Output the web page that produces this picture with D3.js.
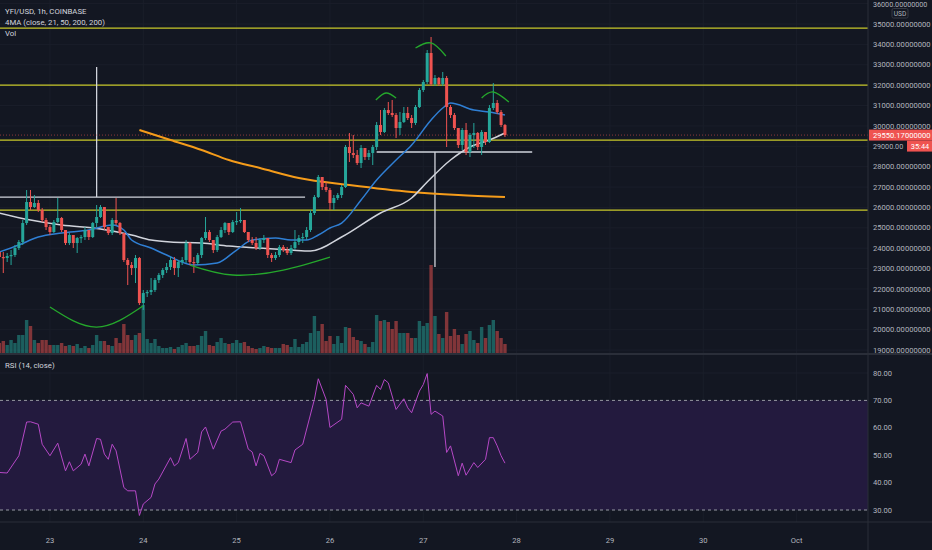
<!DOCTYPE html>
<html>
<head>
<meta charset="utf-8">
<script src="https://cdn.jsdelivr.net/npm/d3@7"></script>
<style>
  html, body { margin: 0; padding: 0; background: #131722; overflow: hidden; }
  text { font-family: Roboto, "Noto Sans", sans-serif; }
</style>
</head>
<body>
<div id="chart"></div>
<script>
// YFI/USD 1h candles, 22 Sep 2020 11:00 UTC onwards (open = previous close)
const firstOpen = 23812;
const closes = [23567, 23518, 23616, 23665, 24009, 24303, 25235, 26266, 26021, 26217,
  25873, 25383, 25039, 24794, 25284, 25481, 24892, 24254, 24647, 24254,
  24499, 24548, 24892, 24548, 25235, 25530, 26021, 25039, 24745, 25383,
  25235, 24745, 23420, 23174, 23027, 23518, 21310, 21800, 21850, 21948,
  22438, 22684, 22929, 23076, 23420, 23027, 23322, 23420, 24254, 23322,
  23273, 23665, 24499, 24794, 24401, 23910, 24548, 24892, 25235, 24794,
  25284, 25334, 25383, 24794, 24401, 24254, 24009, 24401, 24499, 23665,
  23518, 23665, 24058, 23910, 23763, 24009, 24303, 24499, 24548, 24892,
  25726, 26511, 27493, 27002, 26855, 26217, 26462, 26609, 27002, 28965,
  28670, 28572, 28180, 28916, 28474, 28670, 28965, 30044, 29701, 30780,
  30633, 30535, 29897, 30191, 30633, 30388, 30142, 30928, 31762, 32154,
  33577, 32056, 32351, 32056, 32351, 30928, 30535, 29897, 29063, 29799,
  28719, 29554, 29652, 28965, 29701, 29210, 30878, 31124, 30682, 30044,
  29550.17];
const highs = [23910, 23812, 23763, 23910, 24156, 24401, 25383, 26855, 26855, 26609,
  26364, 25971, 25481, 25137, 25383, 26462, 25530, 24892, 24745, 24647,
  24548, 24647, 25039, 24892, 25284, 26119, 26119, 26021, 25039, 25481,
  26462, 25284, 24745, 23518, 23322, 23665, 23567, 21948, 21948, 22537,
  22537, 22782, 23027, 23273, 23567, 23567, 23420, 23567, 24401, 24303,
  23567, 23763, 24548, 25530, 24892, 24401, 24647, 25039, 25284, 25235,
  25383, 25775, 25971, 25383, 24794, 24548, 24548, 24499, 24647, 24499,
  23763, 23812, 24156, 24156, 24058, 24156, 24892, 24647, 24745, 25039,
  25873, 26609, 27591, 27493, 27247, 26953, 26609, 26707, 27100, 29063,
  29652, 29554, 28817, 29063, 28817, 28817, 29063, 30191, 30780, 30878,
  31173, 31271, 30633, 30682, 30928, 30928, 30535, 31026, 31860, 32252,
  33724, 34362, 32498, 32400, 32645, 32449, 31026, 30633, 29897, 29897,
  30142, 29652, 30142, 29701, 29799, 29701, 31026, 32105, 31271, 30780,
  30093];
const lows = [23420, 22782, 23322, 23174, 23567, 23910, 24156, 25137, 25873, 25971,
  25775, 25284, 24892, 24647, 24745, 25235, 24794, 24156, 24156, 24009,
  23763, 24254, 24401, 24401, 24499, 25039, 25481, 24892, 24647, 24647,
  25137, 24647, 23322, 22193, 22684, 22291, 21212, 20966, 21604, 21702,
  21850, 22291, 22537, 22782, 22929, 22684, 22586, 23174, 23273, 23174,
  22782, 23174, 23518, 24401, 24303, 23763, 23812, 24499, 24745, 24647,
  24745, 25137, 25235, 24745, 24303, 24156, 23910, 23910, 24254, 23518,
  23322, 23420, 23567, 23812, 23665, 23665, 23910, 24156, 24254, 24401,
  24794, 25628, 26462, 26855, 26757, 25873, 25873, 26364, 26462, 26953,
  28229, 28425, 28081, 27934, 28327, 28327, 28081, 28817, 29554, 29652,
  30535, 30437, 29406, 29554, 30142, 30290, 29897, 30044, 30878, 31664,
  32056, 31958, 31958, 31958, 31958, 28965, 30388, 29799, 28916, 28817,
  28572, 28474, 28916, 28817, 28572, 29063, 29161, 30780, 30584, 29946,
  29455];
const volumes = [100, 120, 80, 130, 100, 180, 180, 330, 270, 130,
  100, 130, 130, 80, 80, 80, 100, 70, 80, 70,
  90, 50, 70, 50, 80, 180, 120, 120, 80, 70,
  150, 100, 290, 180, 130, 180, 200, 480, 140, 100,
  140, 70, 50, 50, 60, 40, 60, 80, 100, 70,
  70, 80, 170, 220, 80, 70, 110, 150, 100, 90,
  100, 130, 100, 110, 70, 50, 40, 50, 70, 60,
  50, 50, 50, 90, 80, 60, 140, 60, 90, 110,
  200, 370, 220, 290, 120, 170, 90, 170, 100, 260,
  250, 160, 130, 120, 90, 60, 110, 380, 320, 330,
  310, 240, 320, 200, 200, 200, 150, 150, 320, 270,
  300, 880, 370, 190, 150, 410, 170, 240, 180, 90,
  190, 220, 130, 100, 260, 150, 280, 330, 220, 150,
  90];

// moving averages: [candle index, price]
const ma21 = [[0, 23812], [5, 24156], [10, 24548], [16, 24745], [23, 24892], [29, 25137],
  [32, 24892], [34, 24401], [39, 24009], [43, 23665], [50, 23174], [56, 23273],
  [61, 23910], [65, 24401], [71, 24499], [75, 24401], [79, 24401], [82, 24647],
  [85, 24990], [88, 25235], [93, 26364], [97, 27345], [102, 28327], [106, 29063],
  [111, 30290], [114, 30878], [116, 31124], [122, 30780], [126, 30682], [130, 30535]];
const ma50 = [[0, 25726], [8, 25383], [16, 25137], [26, 24941], [34, 24647], [39, 24401],
  [44, 24303], [52, 24254], [59, 24107], [67, 24009], [75, 23910], [80, 23861],
  [88, 24548], [98, 25726], [106, 26462], [110, 27247], [116, 28327], [121, 28965],
  [126, 29308], [130, 29652]];
const ma200 = [[36, 29799], [44, 29308], [52, 28817], [59, 28327], [67, 27934], [77, 27444],
  [90, 27100], [106, 26757], [118, 26609], [130, 26511]];

// RSI (14, close): [candle index, value]
const rsi = [[0, 43.7], [2, 43.5], [5, 49.8], [7, 62.1], [8, 62.2], [10, 61.3], [11, 54],
  [13, 49.8], [15, 54.4], [17, 44.3], [18, 47.6], [19, 44.3], [21, 46.7], [22, 50.4],
  [23, 46.1], [25, 56.1], [26, 55.8], [27, 50.4], [28, 48.5], [29, 54], [30, 51.6],
  [32, 38.2], [33, 37], [35, 37], [36, 28], [37, 32.2], [39, 34.6], [40, 39.5],
  [41, 41.3], [44, 49.1], [45, 46.1], [46, 47.3], [48, 56.1], [49, 48.5], [51, 51],
  [52, 58.5], [53, 60.3], [55, 52.2], [57, 58.8], [58, 59.5], [60, 62.1], [62, 62.2],
  [64, 52.2], [65, 51.2], [66, 46.1], [67, 50.7], [68, 49.8], [70, 42.5], [71, 43.7],
  [72, 48.5], [75, 47.3], [76, 51.9], [78, 54], [81, 70.4], [82, 77.9], [84, 70.4],
  [85, 60.1], [88, 63.1], [89, 75.5], [91, 72.2], [92, 67.3], [93, 69.1], [95, 67.9],
  [97, 75.5], [98, 74], [99, 77.6], [100, 76.4], [102, 66.7], [104, 70.6], [105, 67.3],
  [106, 65.5], [108, 73.4], [109, 75.8], [110, 79.8], [111, 64.9], [112, 66.1],
  [114, 64.3], [115, 51], [116, 53.4], [118, 42.5], [119, 47.1], [120, 42.7],
  [122, 47.3], [123, 45.5], [125, 48.5], [126, 56.4], [127, 56.4], [128, 53.4],
  [129, 49.8], [130, 47.1]];

// drawings on the chart
const levels = [34800, 32000, 29300, 25870];
const measureLines = [
  [[-1, 26510], [78.6, 26510]],
  [[25, 32890], [25, 26510]],
  [[97, 28720], [137, 28720]],
  [[112, 28720], [112, 23076]]
];
const arcs = [
  [[13, 21114], [25, 20132], [36.9, 21165]],
  [[49, 23174], [60, 22684], [73, 22929], [85, 23567]],
  [[96.8, 31271], [99.4, 31614], [102, 31369]],
  [[107, 33823], [111, 34068], [114.8, 33430]],
  [[124, 31369], [127, 31664], [131, 31173]]
];

const priceTicks = d3.range(19000, 36001, 1000);
const rsiTicks = [30, 40, 50, 60, 70, 80];

const width = 932, height = 550;
const plotW = 868, mainBottom = 353, rsiTop = 355, rsiBottom = 522;

const bg = "#131722", grid = "#1a1e2a", axisText = "#b2b5be";
const up = "#26a69a", down = "#ef5350";

const t0 = Date.UTC(2020, 8, 22, 11);
const tAt = i => new Date(t0 + i * 3600e3);

const candles = closes.map((c, i) => ({
  i: i,
  open: i === 0 ? firstOpen : closes[i - 1],
  close: c,
  high: highs[i],
  low: lows[i],
  vol: volumes[i]
}));

const x = d3.scaleUtc()
  .domain([tAt(0.154), tAt(223.35)])
  .range([0, plotW]);
const xi = i => x(tAt(i));

const y = d3.scaleLinear().domain([19000, 35000]).range([350.1, 24]);
const yVol = d3.scaleLinear().domain([0, 880]).range([mainBottom, 265]);
const yRsi = d3.scaleLinear().domain([30, 80]).range([510, 373]);

const svg = d3.select("#chart").append("svg")
  .attr("width", width)
  .attr("height", height)
  .style("display", "block");

svg.append("rect").attr("width", width).attr("height", height).attr("fill", bg);

const defs = svg.append("defs");
defs.append("clipPath").attr("id", "clipMain")
  .append("rect").attr("width", plotW).attr("height", mainBottom);
defs.append("clipPath").attr("id", "clipRsi")
  .append("rect").attr("y", rsiTop).attr("width", plotW).attr("height", rsiBottom - rsiTop);

const dayTicks = d3.utcDay.range(tAt(0), tAt(224));

// grid
const gGrid = svg.append("g");
gGrid.selectAll(".vgrid").data(dayTicks).enter().append("line")
  .attr("x1", d => x(d)).attr("x2", d => x(d))
  .attr("y1", 0).attr("y2", rsiBottom)
  .attr("stroke", grid).attr("stroke-width", 1);
gGrid.selectAll(".hgrid").data(priceTicks).enter().append("line")
  .attr("x1", 0).attr("x2", plotW)
  .attr("y1", d => y(d)).attr("y2", d => y(d))
  .attr("stroke", grid).attr("stroke-width", 1);
gGrid.selectAll(".rgrid").data(rsiTicks).enter().append("line")
  .attr("x1", 0).attr("x2", plotW)
  .attr("y1", d => yRsi(d)).attr("y2", d => yRsi(d))
  .attr("stroke", grid).attr("stroke-width", 1);

// main pane
const main = svg.append("g").attr("clip-path", "url(#clipMain)");

// volume
main.append("g").selectAll("rect").data(candles).enter().append("rect")
  .attr("x", d => xi(d.i) - 1.7)
  .attr("width", 3.4)
  .attr("y", d => yVol(d.vol))
  .attr("height", d => mainBottom - yVol(d.vol))
  .attr("fill", d => d.close >= d.open ? up : down)
  .attr("opacity", 0.5);

// horizontal levels
main.append("g").selectAll("line").data(levels).enter().append("line")
  .attr("x1", 0).attr("x2", plotW)
  .attr("y1", d => y(d)).attr("y2", d => y(d))
  .attr("stroke", "#c8c82a").attr("stroke-width", 1.3);

// measure lines
const seg = d3.line().x(d => xi(d[0])).y(d => y(d[1]));
main.append("g").selectAll("path").data(measureLines).enter().append("path")
  .attr("d", seg)
  .attr("fill", "none")
  .attr("stroke", "#d1d4dc")
  .attr("stroke-width", 1.3);

// current price line
const lastClose = closes[closes.length - 1];
main.append("line")
  .attr("x1", 0).attr("x2", plotW)
  .attr("y1", y(lastClose)).attr("y2", y(lastClose))
  .attr("stroke", down).attr("stroke-opacity", 0.55)
  .attr("stroke-width", 1).attr("stroke-dasharray", "1,2");

// moving averages
const maLine = d3.line().x(d => xi(d[0])).y(d => y(d[1])).curve(d3.curveMonotoneX);
main.append("path").datum(ma200).attr("d", maLine)
  .attr("fill", "none").attr("stroke", "#f59c1a").attr("stroke-width", 2);
main.append("path").datum(ma50).attr("d", maLine)
  .attr("fill", "none").attr("stroke", "#d1d4dc").attr("stroke-width", 1.5);
main.append("path").datum(ma21).attr("d", maLine)
  .attr("fill", "none").attr("stroke", "#2f7fd4").attr("stroke-width", 1.5);

// candles
const gc = main.append("g");
gc.selectAll("line").data(candles).enter().append("line")
  .attr("x1", d => xi(d.i)).attr("x2", d => xi(d.i))
  .attr("y1", d => y(d.high)).attr("y2", d => y(d.low))
  .attr("stroke", d => d.close >= d.open ? up : down)
  .attr("stroke-width", 1);
gc.selectAll("rect").data(candles).enter().append("rect")
  .attr("x", d => xi(d.i) - 1.5)
  .attr("width", 3)
  .attr("y", d => y(Math.max(d.open, d.close)))
  .attr("height", d => Math.max(1.2, Math.abs(y(d.open) - y(d.close))))
  .attr("fill", d => d.close >= d.open ? up : down);

// green arcs
const arcLine = d3.line().x(d => xi(d[0])).y(d => y(d[1])).curve(d3.curveNatural);
main.append("g").selectAll("path").data(arcs).enter().append("path")
  .attr("d", arcLine)
  .attr("fill", "none")
  .attr("stroke", "#25a82c")
  .attr("stroke-width", 1.3);

// RSI pane
const rsiG = svg.append("g").attr("clip-path", "url(#clipRsi)");
rsiG.append("rect")
  .attr("x", 0).attr("width", plotW)
  .attr("y", yRsi(70)).attr("height", yRsi(30) - yRsi(70))
  .attr("fill", "#231a3e");
rsiG.selectAll(".band").data([70, 30]).enter().append("line")
  .attr("x1", 0).attr("x2", plotW)
  .attr("y1", d => yRsi(d)).attr("y2", d => yRsi(d))
  .attr("stroke", "#9598a1").attr("stroke-width", 1)
  .attr("stroke-dasharray", "3,3");
rsiG.append("path").datum(rsi)
  .attr("d", d3.line().x(d => xi(d[0])).y(d => yRsi(d[1])))
  .attr("fill", "none").attr("stroke", "#b548c6").attr("stroke-width", 1);

// separators
svg.append("line").attr("x1", 0).attr("x2", width).attr("y1", mainBottom + 1).attr("y2", mainBottom + 1)
  .attr("stroke", "#2a2e39").attr("stroke-width", 2);
svg.append("line").attr("x1", 0).attr("x2", width).attr("y1", rsiBottom).attr("y2", rsiBottom)
  .attr("stroke", "#2a2e39").attr("stroke-width", 1);
svg.append("line").attr("x1", plotW).attr("x2", plotW).attr("y1", 0).attr("y2", height)
  .attr("stroke", "#2a2e39").attr("stroke-width", 1);

// price axis (the 29000 tick is drawn separately, half hidden like the reference)
const axisG = svg.append("g").style("font-size", "7.6px").attr("fill", axisText);
axisG.selectAll(".pt").data(priceTicks.filter(d => d !== 29000 && d !== 36000)).enter().append("text")
  .attr("x", 873).attr("y", d => y(d)).attr("dy", "0.35em")
  .text(d => d3.format(".8f")(d));
axisG.append("text").attr("x", 873).attr("y", 4).attr("dy", "0.35em")
  .style("font-size", "7.2px")
  .text(d3.format(".8f")(36000));
axisG.selectAll(".rt").data(rsiTicks).enter().append("text")
  .attr("x", 873).attr("y", d => yRsi(d)).attr("dy", "0.35em")
  .text(d => d3.format(".2f")(d));

// USD box
svg.append("rect").attr("x", 892).attr("y", 8.5).attr("width", 16).attr("height", 9.5)
  .attr("fill", bg).attr("stroke", "#363a45").attr("rx", 1.5);
svg.append("text").attr("x", 900).attr("y", 13.3).attr("dy", "0.35em")
  .attr("text-anchor", "middle").style("font-size", "6.6px").attr("fill", axisText).text("USD");

// last price labels
svg.append("rect").attr("x", plotW + 1).attr("y", y(lastClose) - 5.5)
  .attr("width", width - plotW).attr("height", 11).attr("fill", down);
svg.append("text").attr("x", 873).attr("y", y(lastClose)).attr("dy", "0.35em")
  .style("font-size", "7.6px").attr("fill", "#ffffff").text(d3.format(".8f")(lastClose));
svg.append("text").attr("x", 873).attr("y", y(29000) + 0.6).attr("dy", "0.35em")
  .style("font-size", "7.2px").attr("fill", axisText).text("29000.00");
svg.append("rect").attr("x", 907).attr("y", y(lastClose) + 5.5)
  .attr("width", 25).attr("height", 11).attr("fill", down);
svg.append("text").attr("x", 920).attr("y", y(lastClose) + 11).attr("dy", "0.35em")
  .attr("text-anchor", "middle").style("font-size", "7.4px").attr("fill", "#ffffff").text("35:44");

// time axis
svg.append("g").selectAll("text").data(dayTicks).enter().append("text")
  .attr("x", d => x(d)).attr("y", 540).attr("dy", "0.35em")
  .attr("text-anchor", "middle")
  .style("font-size", "7.6px").attr("fill", axisText)
  .text(d => d.getUTCDate() === 1 ? d3.utcFormat("%b")(d) : d.getUTCDate());

// legends
const legend = [["YFI/USD, 1h, COINBASE", 11], ["4MA (close, 21, 50, 200, 200)", 22], ["Vol", 33]];
svg.append("g").selectAll("text").data(legend).enter().append("text")
  .attr("x", 5).attr("y", d => d[1]).attr("dy", "0.35em")
  .style("font-size", "7.8px").attr("fill", "#d1d4dc")
  .text(d => d[0]);
svg.append("text").attr("x", 5).attr("y", 365).attr("dy", "0.35em")
  .style("font-size", "7.8px").attr("fill", "#d1d4dc").text("RSI (14, close)");
</script>
</body>
</html>
